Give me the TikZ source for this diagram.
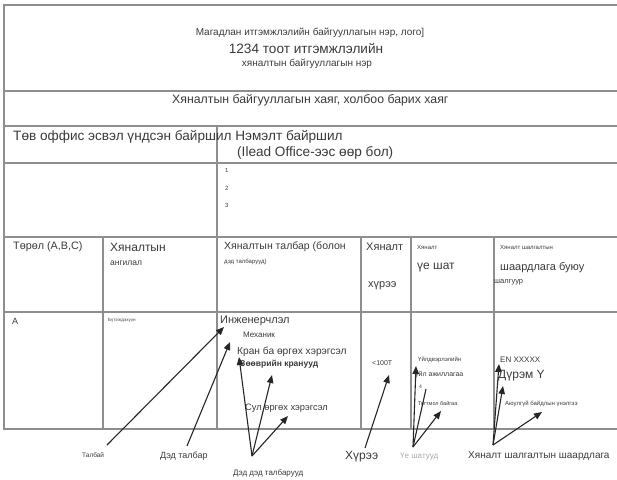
\documentclass[tikz,border=0pt]{standalone}
\usepackage{fontspec}
\setmainfont{Liberation Sans}
\usetikzlibrary{arrows.meta}

\definecolor{gridgray}{HTML}{8E8E8E}
\definecolor{inkgray}{HTML}{3A3A3A}
\definecolor{fadegray}{HTML}{A8A8A8}

\tikzset{
  gridline/.style={gridgray, line width=1.1pt},
  txtbig/.style={inkgray, inner sep=0pt, font=\fontsize{13.6}{15}\selectfont},
  txtmid/.style={inkgray, inner sep=0pt, font=\fontsize{11}{13}\selectfont},
  txtsmall/.style={inkgray, inner sep=0pt, font=\fontsize{8.5}{10}\selectfont},
  txttiny/.style={inkgray, inner sep=0pt, font=\fontsize{6}{7}\selectfont},
  pointer/.style={->, line width=1.1pt, black!85},
}

\begin{document}
\begin{tikzpicture}[x=1pt,y=-1pt,>={Triangle[length=8pt,width=6.5pt]}]
\useasboundingbox (0,0) rectangle (617,479);
% table frame
\draw[gridline] (617,5)--(4,5)--(4,429)--(617,429);
% rows
\foreach \y in {91,126,163,237,312} \draw[gridline] (4,\y)--(617,\y);
% columns
\draw[gridline] (217,126)--(217,429);
\foreach \x in {103,361,411,494} \draw[gridline] (\x,237)--(\x,429);

% header
\node[inkgray,inner sep=0pt,font=\fontsize{10}{12}\selectfont] (logo) at (310,33) {Магадлан итгэмжлэлийн байгууллагын нэр, лого]};
\node[txtbig] (certno) at (306,49) {1234 тоот итгэмжлэлийн};
\node[inkgray,inner sep=0pt,font=\fontsize{10}{12}\selectfont] (bodyname) at (307,64) {хяналтын байгууллагын нэр};
% address
\node[inkgray,inner sep=0pt,font=\fontsize{12.3}{14}\selectfont,right] (address) at (172,100) {Хяналтын байгууллагын хаяг, холбоо барих хаяг};
% offices
\node[txtbig,right] (office) at (13,137) {Төв оффис эсвэл үндсэн байршил Нэмэлт байршил};
\node[txtbig,right] (headoffice) at (237,153) {(Ilead Office-ээс өөр бол)};
\node[txttiny,right] (site1) at (225,170) {1};
\node[txttiny,right] (site2) at (225,188) {2};
\node[txttiny,right] (site3) at (225,205) {3};

% column heads
\node[inkgray,inner sep=0pt,font=\fontsize{10.8}{12}\selectfont,right] (type) at (13,247) {Төрөл (A,B,C)};
\node[inkgray,inner sep=0pt,font=\fontsize{12}{14}\selectfont,right] (classA) at (110,247) {Хяналтын};
\node[txtsmall,right] (classB) at (110,263) {ангилал};
\node[inkgray,inner sep=0pt,font=\fontsize{10.5}{12}\selectfont,right] (fieldA) at (224,247) {Хяналтын талбар (болон};
\node[txttiny,right] (fieldB) at (224,262) {дэд талбарууд)};
\node[txtmid,right] (scopeA) at (366,247) {Хяналт};
\node[txtmid,right] (scopeB) at (368,286) {хүрээ};
\node[txttiny,right] (stageA) at (417,247) {Хяналт};
\node[inkgray,inner sep=0pt,font=\fontsize{12}{14}\selectfont,right] (stageB) at (417,268) {үе шат};
\node[txttiny,right] (reqA) at (500,247) {Хяналт шалгалтын};
\node[txtmid,right] (reqB) at (500,268) {шаардлага буюу};
\node[inkgray,inner sep=0pt,font=\fontsize{7.5}{9}\selectfont,right] (reqC) at (494,282) {шалгуур};

% data row
\node[inkgray,inner sep=0pt,font=\fontsize{9}{11}\selectfont,right] (rowA) at (12,321) {A};
\node[inkgray,inner sep=0pt,font=\fontsize{4.5}{5}\selectfont,right] (product) at (108,320) {Бүтээгдэхүүн};
\node[inkgray,inner sep=0pt,font=\fontsize{11}{13}\selectfont,right] (engin) at (220,321) {Инженерчлэл};
\node[inkgray,inner sep=0pt,font=\fontsize{8}{9}\selectfont,right] (mech) at (243,335) {Механик};
\node[inkgray,inner sep=0pt,font=\fontsize{10.2}{12}\selectfont,right] (crane) at (237,352) {Кран ба өргөх хэрэгсэл};
\node[inkgray,inner sep=0pt,font=\fontsize{8.5}{10}\bfseries,right] (mobile) at (240,364) {Зөөврийн кранууд};
\node[inkgray,inner sep=0pt,font=\fontsize{9.3}{11}\selectfont,right] (loose) at (245,408) {Сул өргөх хэрэгсэл};
\node[inkgray,inner sep=0pt,font=\fontsize{7}{8}\selectfont,right] (limit) at (372,363) {<100Т};
\node[txttiny,right] (prodA) at (418,360) {Үйлдвэрлэлийн};
\node[inkgray,inner sep=0pt,font=\fontsize{7}{8}\selectfont,right] (prodB) at (415,375) {үйл ажиллагаа};
\node[inkgray,inner sep=0pt,font=\fontsize{5}{6}\selectfont,right] (four) at (419,387) {4};
\node[inkgray,inner sep=0pt,font=\fontsize{5.5}{6}\selectfont,right] (steady) at (418,403) {Тогтмол байгаа};
\node[inkgray,inner sep=0pt,font=\fontsize{8}{9}\selectfont,right] (norm) at (500,360) {EN XXXXX};
\node[inkgray,inner sep=0pt,font=\fontsize{12}{14}\selectfont,right] (rule) at (498,376) {Дүрэм Y};
\node[txttiny,right] (safety) at (505,404) {Аюулгүй байдлын үнэлгээ};

% labels under table
\node[inkgray,inner sep=0pt,font=\fontsize{6.5}{8}\selectfont,right] (talbai) at (82,455) {Талбай};
\node[inkgray,inner sep=0pt,font=\fontsize{9}{11}\selectfont,right] (subfield) at (160,456) {Дэд талбар};
\node[inkgray,inner sep=0pt,font=\fontsize{8}{10}\selectfont,right] (subsub) at (233,473) {Дэд дэд талбарууд};
\node[inkgray,inner sep=0pt,font=\fontsize{12}{14}\selectfont,right] (scope) at (345,457) {Хүрээ};
\node[fadegray,inner sep=0pt,font=\fontsize{8}{10}\selectfont,right] (stages) at (400,457) {Үе шатууд};
\node[inkgray,inner sep=0pt,font=\fontsize{10}{12}\selectfont,right] (require) at (468,456) {Хяналт шалгалтын шаардлага};

% arrow ends
\coordinate (talbai-o) at (107,445);
\coordinate (subfield-o) at (187,446);
\coordinate (subsub-o) at (252,456);
\coordinate (scope-o) at (365,448);
\coordinate (stages-o) at (413,447);
\coordinate (require-o) at (493,445);

% pointers
\draw[pointer] (talbai-o)--(224,327);
\draw[pointer] (subfield-o)--(230,342);
\draw[pointer] (subsub-o)--(239,357);
\draw[pointer] (subsub-o)--(272,375);
\draw[pointer] (subsub-o)--(288,416);
\draw[pointer] (scope-o)--(389,375);
\draw[pointer] (stages-o)--(416,366);
\draw[line width=1.1pt, black!85] (stages-o)--(426,389);
\draw[pointer] (stages-o)--(441,411);
\draw[pointer] (require-o)--(499,364);
\draw[pointer] (require-o)--(503,386);
\draw[pointer] (require-o)--(542,412);
\end{tikzpicture}
\end{document}
